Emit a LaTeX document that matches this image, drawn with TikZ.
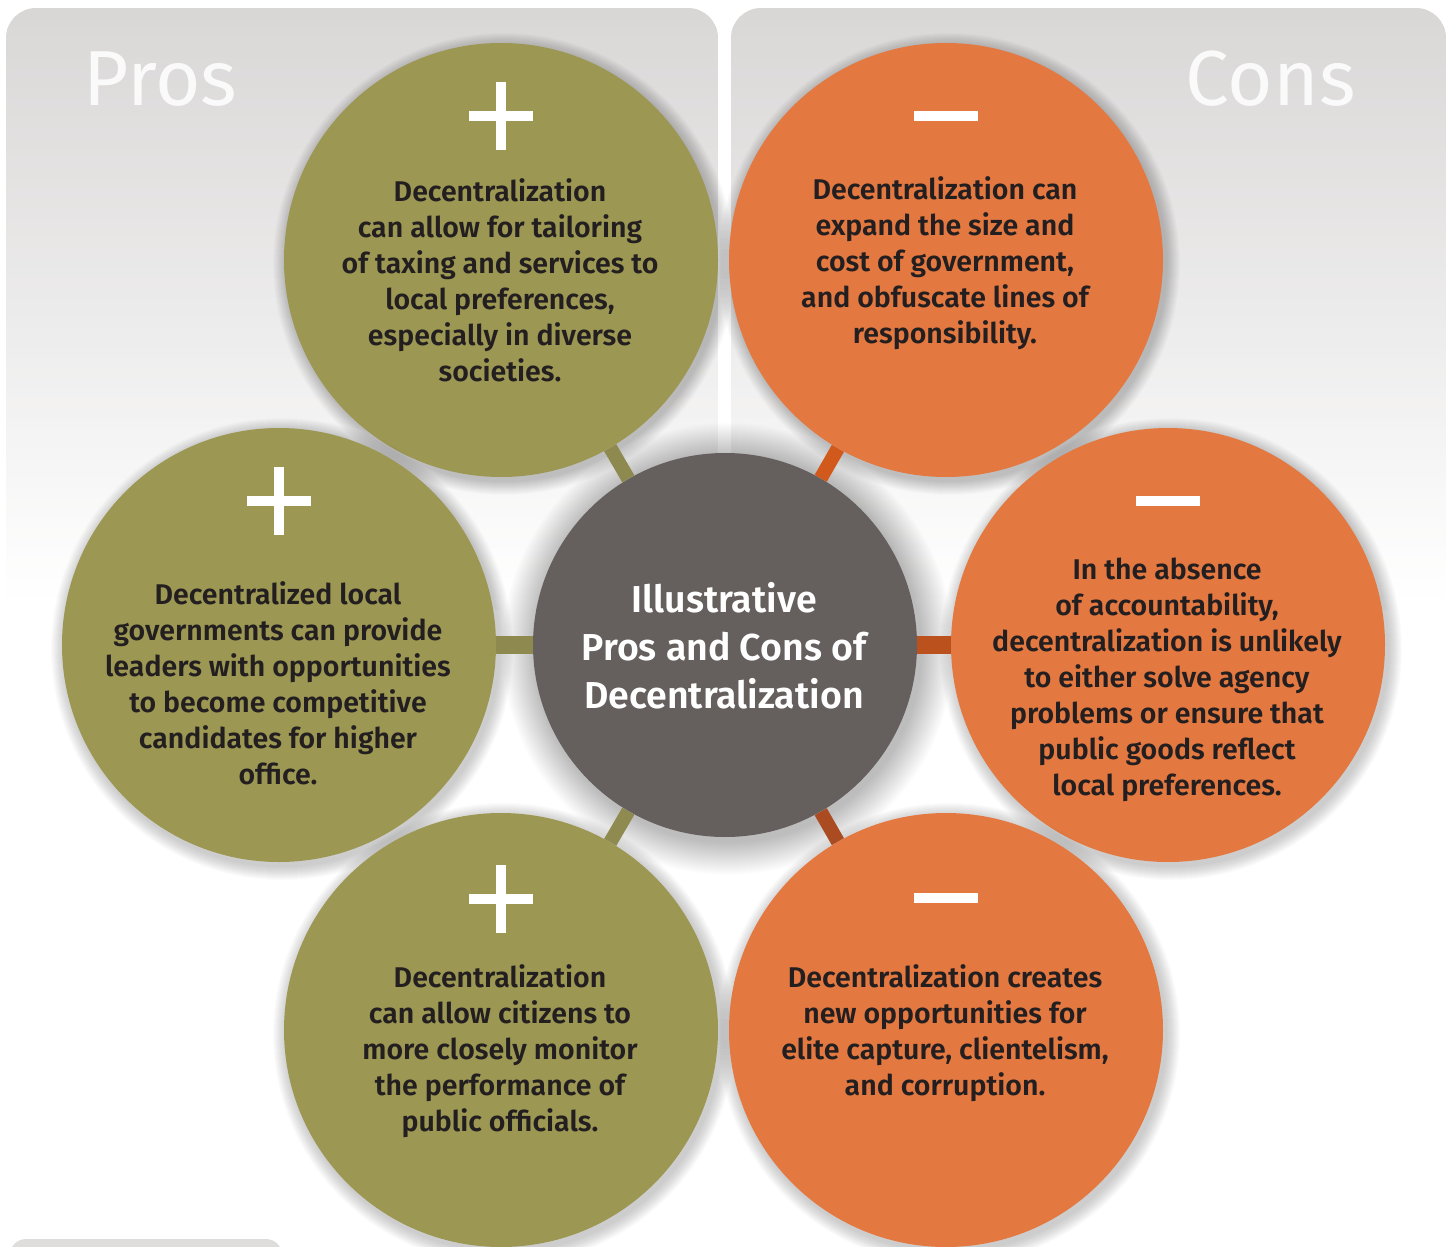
\documentclass[tikz,border=0pt]{standalone}
\usepackage{fontspec}
\setmainfont{Fira Sans}[BoldFont={Fira Sans SemiBold}]
\usetikzlibrary{calc}

\definecolor{panelgray}{HTML}{D9D7D6}
\definecolor{proolive}{HTML}{9C9752}
\definecolor{prodark}{HTML}{8D894F}
\definecolor{conorange}{HTML}{E37840}
\definecolor{conhigh}{HTML}{D2591C}
\definecolor{conmid}{HTML}{BB521E}
\definecolor{conlow}{HTML}{AA4B21}
\definecolor{hubgray}{HTML}{65605E}
\definecolor{inkdark}{HTML}{231F20}

\tikzset{
  bubble/.style={circle, minimum size=434pt, inner sep=0pt},
  pro/.style={bubble, fill=proolive},
  con/.style={bubble, fill=conorange},
  hub/.style={bubble, fill=hubgray, minimum size=384pt},
  body/.style={font=\fontsize{28.5}{36}\selectfont\bfseries, text=inkdark, align=center},
  hubtext/.style={font=\fontsize{37.5}{48}\selectfont\bfseries, text=white, align=center},
  headline/.style={font=\fontsize{78}{84}\selectfont, text=white!98!black},
  signline/.style={white, line width=10pt},
  link/.style={line width=14pt}
}

% a panel fading from gray at the top to white, built from thin strips
\newcommand{\fadepanel}[2]{%
  \begin{scope}
    \clip[rounded corners=30pt] (#1,8) rectangle (#2,640);
    \foreach \i in {0,...,59}{
      \pgfmathtruncatemacro{\pct}{100-\i*100/59}
      \fill[panelgray!\pct!white] (#1,8+\i*10) rectangle (#2,19.5+\i*10);
    }
  \end{scope}}

% a soft shadow under a disc of radius #3 centred at (#1,#2):
% #4 rings, each of opacity #5
\newcommand{\discshadow}[5]{%
  \foreach \k in {1,...,#4}{
    \fill[black, opacity=#5] (#1+3,#2+4) circle ({#3+\k});
  }}

\begin{document}
\begin{tikzpicture}[x=1pt,y=-1pt]
\useasboundingbox (0,0) rectangle (1451,1247);

% shaded panels behind everything
\fadepanel{6}{718}
\fadepanel{731}{1446}
\fill[panelgray!85, rounded corners=16pt] (10,1239) rectangle (282,1290);

% headings
\node[headline, anchor=base west] (prohead) at (80,105) {Pros};
\node[headline, anchor=base east] (conhead) at (1359,105) {Cons};

% hub and bubbles, each over its soft shadow
\discshadow{725}{645}{192}{34}{0.008}
\node[hub] (c) at (725,645) {};
\discshadow{501}{260}{217}{14}{0.014}
\node[pro] (p1) at (501,260) {};
\discshadow{279}{645}{217}{14}{0.014}
\node[pro] (p2) at (279,645) {};
\discshadow{501}{1030}{217}{14}{0.014}
\node[pro] (p3) at (501,1030) {};
\discshadow{946}{260}{217}{14}{0.014}
\node[con] (n1) at (946,260) {};
\discshadow{1168}{645}{217}{14}{0.014}
\node[con] (n2) at (1168,645) {};
\discshadow{946}{1030}{217}{14}{0.014}
\node[con] (n3) at (946,1030) {};

% short links from the hub to each bubble (border to border)
\draw[link, prodark] (c) -- (p1);
\draw[link, prodark, line width=18pt] (c) -- (p2);
\draw[link, prodark!90!proolive] (c) -- (p3);
\draw[link, conhigh] (c) -- (n1);
\draw[link, conmid, line width=18pt] (c) -- (n2);
\draw[link, conlow] (c) -- (n3);

% hub title
\node[hubtext] (ct) at (724,646) {Illustrative\\Pros and Cons of\\Decentralization};

% plus signs
\foreach \p/\dy in {p1/-144, p2/-144, p3/-131}{
  \draw[signline] ($(\p)+(-32,\dy)$) -- ($(\p)+(32,\dy)$);
  \draw[signline] ($(\p)+(0,\dy-34)$) -- ($(\p)+(0,\dy+34)$);
}
% minus signs
\foreach \n/\dy in {n1/-144, n2/-144, n3/-132}{
  \draw[signline] ($(\n)+(-32,\dy)$) -- ($(\n)+(32,\dy)$);
}

% bubble texts
\node[body] (p1t) at (500,280) {Decentralization\\can allow for tailoring\\of taxing and services to\\local preferences,\\especially in diverse\\societies.};
\node[body] (p2t) at (278,683) {Decentralized local\\governments can provide\\leaders with opportunities\\to become competitive\\candidates for higher\\office.};
\node[body] (p3t) at (500,1051) {Decentralization\\can allow citizens to\\more closely monitor\\the performance of\\public officials.};
\node[body] (n1t) at (945,263) {Decentralization can\\expand the size and\\cost of government,\\and obfuscate lines of\\responsibility.};
\node[body] (n2t) at (1167,680) {In the absence\\of accountability,\\decentralization is unlikely\\to either solve agency\\problems or ensure that\\public goods reflect\\local preferences.};
\node[body] (n3t) at (945,1033) {Decentralization creates\\new opportunities for\\elite capture, clientelism,\\and corruption.};
\end{tikzpicture}
\end{document}
